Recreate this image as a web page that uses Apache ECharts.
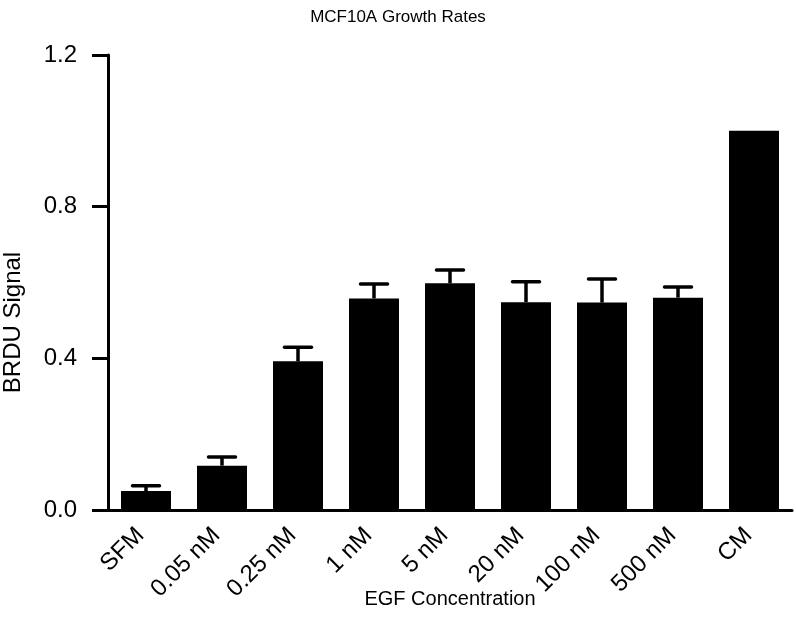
<!DOCTYPE html>
<html>
<head>
<meta charset="utf-8">
<script src="https://cdn.jsdelivr.net/npm/echarts@6/dist/echarts.min.js"></script>
<style>html,body{margin:0;padding:0;background:#fff}#c{width:796px;height:640px}</style>
</head>
<body>
<div id="c"></div>
<script>
const categories = ['SFM', '0.05 nM', '0.25 nM', '1 nM', '5 nM', '20 nM', '100 nM', '500 nM', 'CM'];
const means = [0.050, 0.117, 0.392, 0.558, 0.598, 0.548, 0.547, 0.560, 1.0];
const errors = [0.014, 0.023, 0.037, 0.038, 0.035, 0.054, 0.062, 0.028, 0];
const yTicks = [0, 0.4, 0.8, 1.2];

const FONT = 'Liberation Sans, Arial, Helvetica, sans-serif';
const chart = echarts.init(document.getElementById('c'));
chart.setOption({
  animation: false,
  backgroundColor: '#fff',
  title: {
    text: 'MCF10A Growth Rates',
    left: 'center',
    top: 4,
    textStyle: { fontFamily: FONT, fontSize: 17, fontWeight: 'normal', color: '#000' }
  },
  grid: { left: 108, right: 4, top: 55, bottom: 130, containLabel: false, outerBoundsMode: 'none' },
  xAxis: {
    type: 'category',
    data: categories,
    name: 'EGF Concentration',
    nameLocation: 'middle',
    nameGap: 79,
    nameMoveOverlap: false,
    nameTextStyle: { fontFamily: FONT, fontSize: 20, color: '#000' },
    axisLine: { lineStyle: { color: '#000', width: 3 } },
    axisTick: { alignWithLabel: true, length: 16, lineStyle: { color: '#000', width: 3 } },
    axisLabel: { rotate: 45, margin: 16, padding: [0, 8, 0, 0], fontFamily: FONT, fontSize: 24, color: '#000', interval: 0 }
  },
  yAxis: {
    type: 'value',
    min: 0,
    max: 1.2,
    interval: 0.4,
    name: 'BRDU Signal',
    nameLocation: 'middle',
    nameGap: 83,
    nameMoveOverlap: false,
    nameTextStyle: { fontFamily: FONT, fontSize: 24, color: '#000', padding: [0, 80, 0, 0] },
    axisLine: { show: true, lineStyle: { color: '#000', width: 3 } },
    axisTick: { show: true, length: 16, lineStyle: { color: '#000', width: 3 } },
    splitLine: { show: false },
    axisLabel: {
      margin: 31, fontFamily: FONT, fontSize: 24, color: '#000',
      formatter: v => yTicks.some(t => Math.abs(t - v) < 1e-9) ? v.toFixed(1) : ''
    }
  },
  series: [
    {
      type: 'bar',
      data: means,
      barWidth: 50,
      itemStyle: { color: '#000' },
      z: 2
    },
    {
      type: 'custom',
      data: means.map((m, i) => [i, m, errors[i]]),
      z: 3,
      renderItem: function (params, api) {
        const x = api.value(0), m = api.value(1), e = api.value(2);
        if (!e) return null;
        const p0 = api.coord([x, m]);
        const p1 = api.coord([x, m + e]);
        const half = 13.5;
        const style = { stroke: '#000', lineWidth: 3.5 };
        return {
          type: 'group',
          children: [
            { type: 'line', shape: { x1: p0[0], y1: p0[1], x2: p1[0], y2: p1[1] }, style: style },
            { type: 'line', shape: { x1: p1[0] - half, y1: p1[1], x2: p1[0] + half, y2: p1[1] }, style: Object.assign({ lineCap: 'round' }, style) }
          ]
        };
      }
    }
  ]
});
</script>
</body>
</html>
